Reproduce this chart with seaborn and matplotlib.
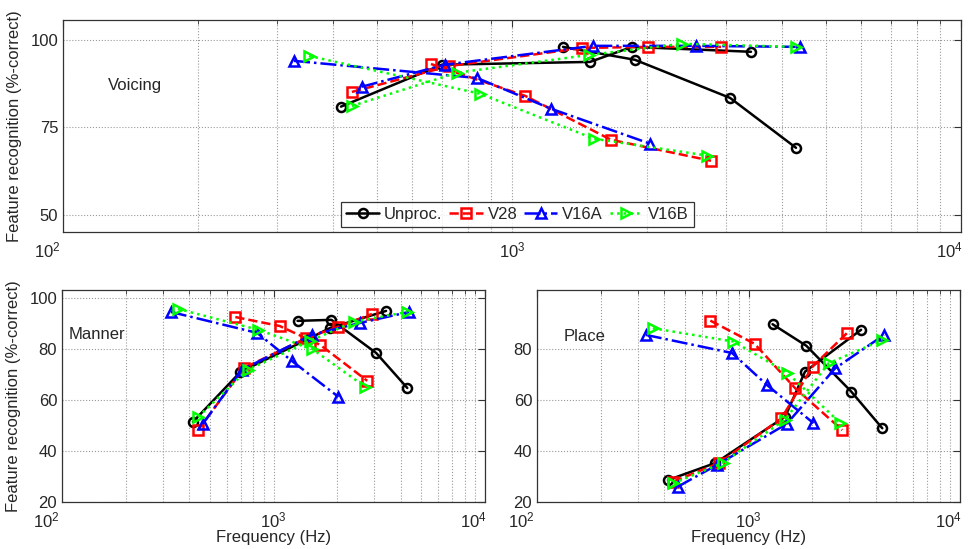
import matplotlib
matplotlib.use("Agg")
import matplotlib.pyplot as plt
import matplotlib.transforms as mtransforms
from matplotlib.lines import Line2D
from matplotlib.ticker import LogLocator, FixedLocator, NullFormatter
import seaborn as sns
import pandas as pd

# ---------------- data ----------------
series_names = ["Unproc.", "V28", "V16A", "V16B"]

# cutoff frequencies (Hz) of the two curves of each condition
unproc_inc_f = [416, 698, 1492, 1850, 3406]
unproc_dec_f = [1299, 1879, 3059, 4291]
v28_inc_f = [440, 724, 1432, 2009, 2921]
v28_dec_f = [660, 1069, 1662, 2775]
v16a_inc_f = [463, 709, 1515, 2569, 4378]
v16a_dec_f = [327, 836, 1221, 2029]
v16b_inc_f = [440, 754, 1484, 2391, 4291]
v16b_dec_f = [353, 849, 1523, 2719]

# Voicing (% correct)
voicing_unproc_inc = [80.9, 92.9, 93.7, 98.0, 96.6]
voicing_unproc_dec = [98.0, 94.3, 83.4, 69.1]
voicing_v28_inc = [85.1, 92.5, 97.7, 98.0, 98.0]
voicing_v28_dec = [93.1, 84.0, 71.4, 65.4]
voicing_v16a_inc = [86.6, 92.9, 98.3, 98.3, 98.0]
voicing_v16a_dec = [94.0, 89.1, 80.3, 70.3]
voicing_v16b_inc = [81.1, 90.6, 95.7, 98.9, 98.0]
voicing_v16b_dec = [95.4, 84.6, 71.7, 66.9]

# Manner (% correct)
manner_unproc_inc = [51.4, 71.0, 84.3, 88.2, 94.9]
manner_unproc_dec = [91.0, 91.4, 78.4, 64.7]
manner_v28_inc = [48.2, 72.5, 84.3, 88.6, 93.7]
manner_v28_dec = [92.5, 89.0, 81.6, 67.5]
manner_v16a_inc = [50.6, 71.8, 85.5, 90.2, 94.5]
manner_v16a_dec = [94.5, 86.3, 75.3, 61.2]
manner_v16b_inc = [53.3, 71.8, 83.1, 90.6, 94.5]
manner_v16b_dec = [95.7, 87.5, 80.0, 65.1]

# Place (% correct)
place_unproc_inc = [28.6, 35.3, 53.5, 71.1, 87.5]
place_unproc_dec = [89.7, 81.2, 63.3, 48.9]
place_v28_inc = [28.0, 35.2, 52.8, 73.1, 86.2]
place_v28_dec = [91.1, 82.0, 64.6, 48.2]
place_v16a_inc = [26.0, 34.5, 50.6, 72.4, 85.5]
place_v16a_dec = [85.5, 78.4, 65.9, 50.9]
place_v16b_inc = [27.3, 35.3, 52.2, 74.4, 83.5]
place_v16b_dec = [88.1, 82.9, 70.7, 50.9]

panel_names = ["Voicing", "Manner", "Place"]
x_ticks = [100, 1000, 10000]
x_tick_labels = [r"$10^2$", r"$10^3$", r"$10^4$"]
voicing_yticks = [50, 75, 100]
manner_yticks = [20, 40, 60, 80, 100]
place_yticks = [20, 40, 60, 80]

freqs = {
    "Unproc.": (unproc_inc_f, unproc_dec_f),
    "V28": (v28_inc_f, v28_dec_f),
    "V16A": (v16a_inc_f, v16a_dec_f),
    "V16B": (v16b_inc_f, v16b_dec_f),
}
values = {
    "Voicing": {
        "Unproc.": (voicing_unproc_inc, voicing_unproc_dec),
        "V28": (voicing_v28_inc, voicing_v28_dec),
        "V16A": (voicing_v16a_inc, voicing_v16a_dec),
        "V16B": (voicing_v16b_inc, voicing_v16b_dec),
    },
    "Manner": {
        "Unproc.": (manner_unproc_inc, manner_unproc_dec),
        "V28": (manner_v28_inc, manner_v28_dec),
        "V16A": (manner_v16a_inc, manner_v16a_dec),
        "V16B": (manner_v16b_inc, manner_v16b_dec),
    },
    "Place": {
        "Unproc.": (place_unproc_inc, place_unproc_dec),
        "V28": (place_v28_inc, place_v28_dec),
        "V16A": (place_v16a_inc, place_v16a_dec),
        "V16B": (place_v16b_inc, place_v16b_dec),
    },
}

rows = []
for p in panel_names:
    for s in series_names:
        for k, curve in enumerate(["inc", "dec"]):
            for f, v in zip(freqs[s][k], values[p][s][k]):
                rows.append({"panel": p, "series": s, "curve": curve, "freq": f, "score": v})
df = pd.DataFrame(rows)

styles = {
    "Unproc.": dict(color="#000000", linestyle="-", marker="o"),
    "V28": dict(color="#ff0000", linestyle="--", marker="s"),
    "V16A": dict(color="#0000ff", linestyle="-.", marker="^"),
    "V16B": dict(color="#00ff00", linestyle=":", marker=">"),
}

# ---------------- figure ----------------
sns.set_style("white")
plt.rcParams["font.family"] = ["Liberation Sans", "DejaVu Sans"]
plt.rcParams["mathtext.fontset"] = "custom"
plt.rcParams["mathtext.rm"] = "Liberation Sans"
plt.rcParams["mathtext.it"] = "Liberation Sans"

W, H = 972, 549
fig = plt.figure(figsize=(W / 100, H / 100), dpi=100)


def px_axes(x0, y0, x1, y1):
    return fig.add_axes([x0 / W, 1 - y1 / H, (x1 - x0) / W, (y1 - y0) / H])


ax_v = px_axes(63, 20, 961, 232)
ax_m = px_axes(62, 290, 485, 502)
ax_p = px_axes(537, 290, 960, 502)

LW = 1.8
MS = 6.5
MEW = 1.8

for ax, p in zip([ax_v, ax_m, ax_p], panel_names):
    sub = df[df["panel"] == p]
    for s in series_names:
        st = styles[s]
        for curve in ["inc", "dec"]:
            d = sub[(sub["series"] == s) & (sub["curve"] == curve)]
            sns.lineplot(data=d, x="freq", y="score", ax=ax, estimator=None,
                         color=st["color"], linestyle=st["linestyle"], marker=st["marker"],
                         markersize=MS, markerfacecolor="none",
                         markeredgecolor=st["color"], markeredgewidth=MEW,
                         linewidth=LW, legend=False)
    ax.set_xscale("log")
    ax.set_xlim(100, 10000)
    ax.xaxis.set_major_locator(FixedLocator(x_ticks))
    ax.set_xticklabels(x_tick_labels)
    ax.xaxis.set_minor_locator(LogLocator(base=10, subs=range(2, 10)))
    ax.xaxis.set_minor_formatter(NullFormatter())
    ax.grid(True, which="major", axis="both", linestyle=":", color="#999999", linewidth=0.8)
    ax.grid(True, which="minor", axis="x", linestyle=":", color="#999999", linewidth=0.8)
    ax.tick_params(which="both", direction="in", top=True, right=True, labelsize=12,
                   color="#333333")
    ax.tick_params(which="major", length=5)
    ax.tick_params(which="minor", length=3)
    ax.tick_params(axis="x", pad=6)
    for sp in ax.spines.values():
        sp.set_color("#333333")
        sp.set_linewidth(0.9)
    ax.set_xlabel("")
    ax.set_ylabel("")
    # shift the edge decade labels slightly left, as in the reference
    lbls = ax.get_xticklabels()
    offs = [-16, 0, -12]
    for lbl, o in zip(lbls, offs):
        lbl.set_transform(lbl.get_transform() +
                          mtransforms.ScaledTranslation(o / 100, 0, fig.dpi_scale_trans))

ax_v.set_ylim(45, 105.7)
ax_v.set_yticks(voicing_yticks)
ax_m.set_ylim(20, 103.1)
ax_m.set_yticks(manner_yticks)
ax_p.set_ylim(20, 103.1)
ax_p.set_yticks(place_yticks)

ax_v.text(0.05, 0.69, "Voicing", transform=ax_v.transAxes, fontsize=12, va="center")
ax_m.text(0.015, 0.79, "Manner", transform=ax_m.transAxes, fontsize=12, va="center")
ax_p.text(0.062, 0.78, "Place", transform=ax_p.transAxes, fontsize=12, va="center")

ax_v.set_ylabel("Feature recognition (%-correct)", fontsize=12, labelpad=6)
ax_m.set_ylabel("Feature recognition (%-correct)", fontsize=12, labelpad=6)
ax_m.set_xlabel("Frequency (Hz)", fontsize=12, labelpad=0)
ax_p.set_xlabel("Frequency (Hz)", fontsize=12, labelpad=0)

handles = [Line2D([0], [0], color=styles[s]["color"], linestyle=styles[s]["linestyle"],
                  marker=styles[s]["marker"], markersize=MS, markerfacecolor="none",
                  markeredgewidth=MEW, linewidth=LW) for s in series_names]
leg = ax_v.legend(handles, series_names, ncol=4, loc="lower center",
                  bbox_to_anchor=(0.506, 0.01), frameon=True, fontsize=12,
                  handlelength=2.0, columnspacing=0.4, handletextpad=0.3,
                  borderpad=0.3, fancybox=False, borderaxespad=0.2)
leg.get_frame().set_edgecolor("#000000")
leg.get_frame().set_linewidth(0.9)

fig.savefig("out.png", dpi=100)
